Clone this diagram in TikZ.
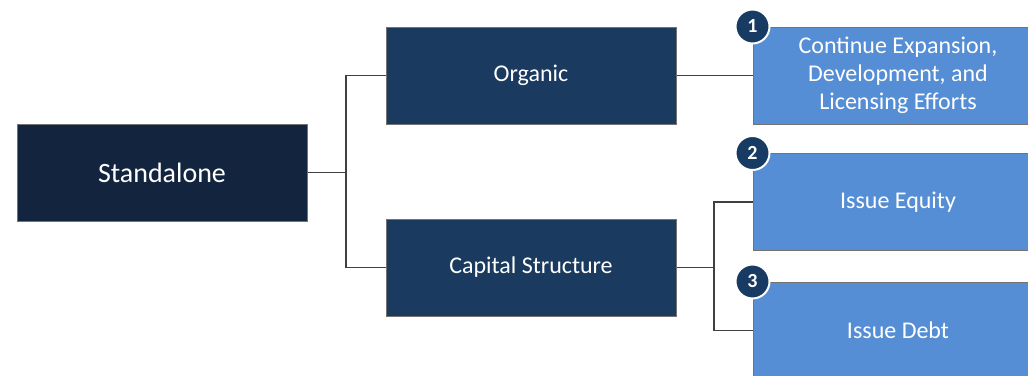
\documentclass[tikz,border=0pt]{standalone}
\usepackage{fontspec}
\setmainfont{Carlito}
\usepackage{xcolor}
\usepackage{tikz}
\usetikzlibrary{positioning}

\definecolor{navydark}{HTML}{13243F}
\definecolor{navy}{HTML}{1A3A5F}
\definecolor{skyblue}{HTML}{558ED5}
\definecolor{badge}{HTML}{173B62}
\definecolor{wire}{HTML}{404040}

\begin{document}
\begin{tikzpicture}[x=0.5pt,y=-0.5pt,
    rootbox/.style={draw=black!55,line width=0.5pt,fill=navydark,text=white,minimum width=145pt,minimum height=48.5pt,font=\fontsize{14}{17}\selectfont},
    midbox/.style={draw=black!55,line width=0.5pt,fill=navy,text=white,minimum width=145pt,minimum height=48.5pt,font=\fontsize{12}{14}\selectfont},
    leafbox/.style={draw=black!55,line width=0.5pt,fill=skyblue,text=white,minimum width=145pt,minimum height=48.5pt,align=center,font=\fontsize{12}{14}\selectfont},
    badgenum/.style={circle,draw=white,line width=1pt,fill=badge,text=white,minimum size=17pt,inner sep=0pt,font=\fontsize{10}{12}\selectfont\bfseries},
    conn/.style={draw=wire,line width=0.75pt}]
    \useasboundingbox (0,0) rectangle (1028,375);

    \node[rootbox] (stand) at (162,172.5) {Standalone};
    \node[midbox] (org) at (531,75.5) {Organic};
    \node[midbox] (cap) at (531,267.5) {Capital Structure};

    \node[leafbox] (expand) at (898,75.5) {Continue Expansion,\\Development, and\\Licensing Efforts};
    \node[leafbox] (equity) at (898,202) {Issue Equity};
    \node[leafbox] (debt) at (898,330.5) {Issue Debt};

    \node[badgenum] (n1) at (expand.north west) {1};
    \node[badgenum] (n2) at (equity.north west) {2};
    \node[badgenum] (n3) at (debt.north west) {3};

    \coordinate (jA) at (346,172.5);
    \coordinate (jB) at (714,267.5);

    \draw[conn] (stand.east) -- (jA) |- (org.west);
    \draw[conn] (jA) |- (cap.west);
    \draw[conn] (org.east) -- (expand.west);
    \draw[conn] (cap.east) -- (jB) |- (equity.west);
    \draw[conn] (jB) |- (debt.west);
\end{tikzpicture}
\end{document}
